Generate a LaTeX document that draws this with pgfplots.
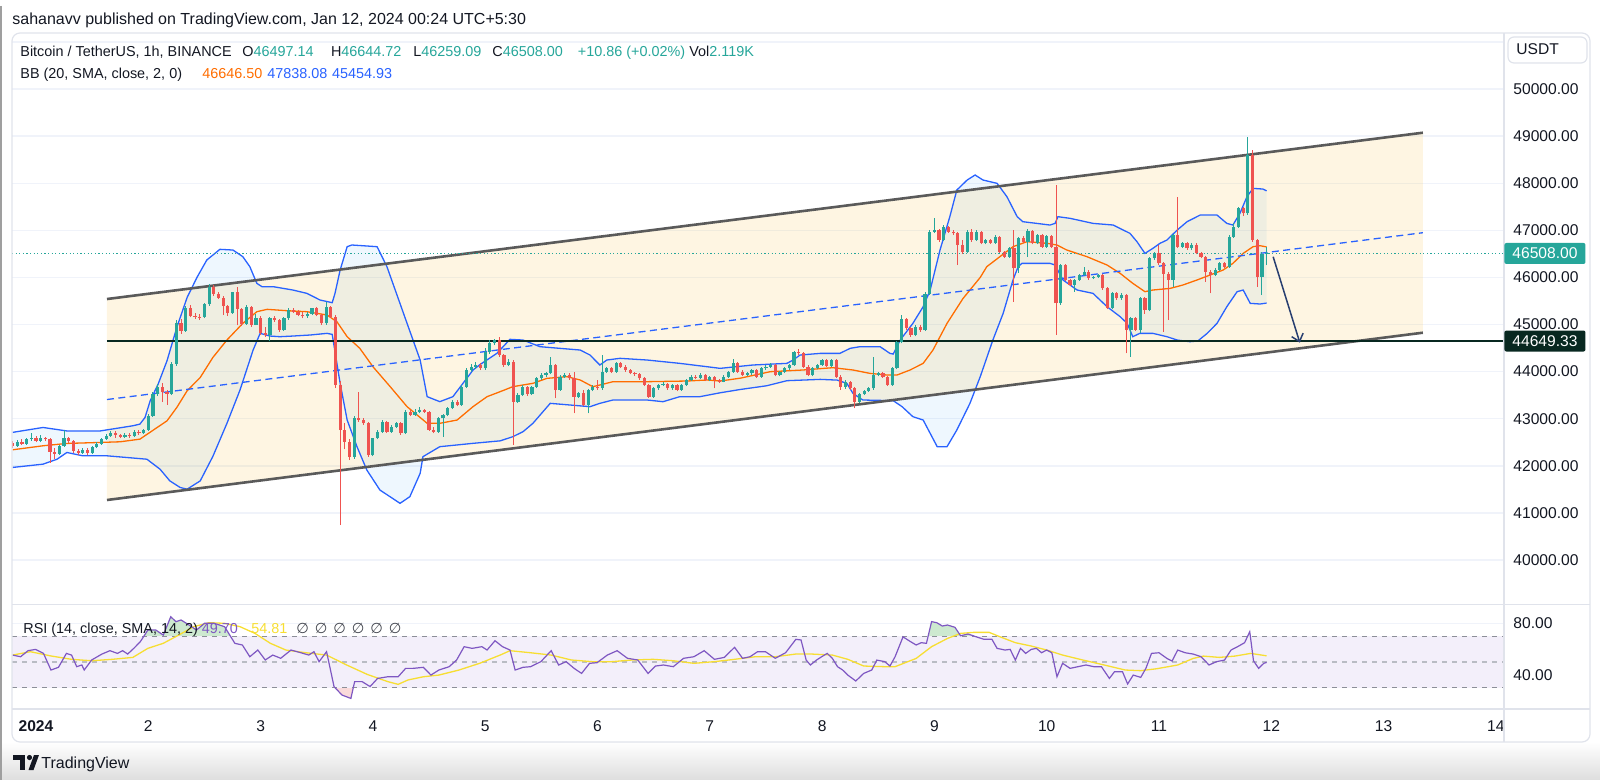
\documentclass[border=0pt]{standalone}
\usepackage{fontspec}
\setmainfont{Liberation Sans}
\newfontfamily\dejavu{DejaVu Sans}
\usepackage{pgfplots}
\usepackage{pgfplotstable}
\pgfplotsset{compat=1.18}
\usepgfplotslibrary{fillbetween}
\usetikzlibrary{arrows.meta}

\definecolor{cup}{RGB}{38,166,154}
\definecolor{cdn}{RGB}{239,83,80}
\definecolor{bbblue}{RGB}{41,98,255}
\definecolor{bbfill}{RGB}{33,150,243}
\definecolor{bborange}{RGB}{255,109,0}
\definecolor{chanfill}{RGB}{245,190,60}
\definecolor{chanline}{RGB}{90,90,90}
\definecolor{gridc}{RGB}{240,243,250}
\definecolor{framec}{RGB}{224,227,235}
\definecolor{txt}{RGB}{19,23,34}
\definecolor{rsic}{RGB}{126,87,194}
\definecolor{rsima}{RGB}{247,222,50}
\definecolor{rsiband}{RGB}{243,239,250}
\definecolor{dashc}{RGB}{140,143,152}
\definecolor{dashl}{RGB}{185,188,196}
\definecolor{obfill}{RGB}{205,233,208}
\definecolor{osfill}{RGB}{250,218,218}
\definecolor{hline}{RGB}{8,40,32}
\definecolor{arrowc}{RGB}{40,62,112}

\newcommand\fhead{\fontsize{8pt}{9.6pt}\selectfont}
\newcommand\fleg{\fontsize{7.2pt}{8.6pt}\selectfont}
\newcommand\fscale{\fontsize{7.8pt}{9pt}\selectfont}

% hourly candles, t = hours from Jan 1 00:00
\pgfplotstableread{
t o hi lo c
-5 42480 42530 42380 42420
-4 42420 42540 42400 42500
-3 42500 42560 42440 42470
-2 42470 42600 42450 42560
-1 42560 42700 42530 42600
0 42600 42640 42500 42530
1 42530 42650 42500 42580
2 42580 42620 42520 42560
3 42560 42580 42070 42300
4 42300 42380 42150 42260
5 42260 42450 42230 42420
6 42420 42760 42400 42600
7 42600 42620 42480 42520
8 42520 42540 42280 42320
9 42320 42360 42220 42280
10 42280 42380 42250 42340
11 42340 42370 42220 42270
12 42270 42410 42250 42390
13 42390 42500 42370 42470
14 42470 42580 42450 42560
15 42560 42680 42540 42640
16 42640 42730 42620 42700
17 42700 42740 42600 42650
18 42650 42680 42580 42620
19 42620 42700 42600 42660
20 42660 42700 42590 42630
21 42630 42760 42610 42720
22 42720 42750 42660 42690
23 42690 42790 42670 42760
24 42760 43100 42740 43060
25 43060 43560 43040 43520
26 43520 43740 43480 43680
27 43680 43760 43350 43560
28 43560 43600 43300 43520
29 43520 44200 43500 44160
30 44160 45100 44120 45040
31 45040 45120 44800 44870
32 44870 45400 44850 45360
33 45360 45420 45150 45180
34 45180 45250 45120 45160
35 45160 45220 45100 45150
36 45150 45460 45130 45430
37 45430 45850 45400 45790
38 45790 45830 45600 45650
39 45650 45700 45540 45570
40 45570 45600 45200 45400
41 45400 45420 45180 45250
42 45250 45700 45230 45680
43 45680 45800 44980 45330
44 45330 45350 44960 45020
45 45020 45420 45000 45380
46 45380 45400 44950 45000
47 45000 45230 44980 45130
48 45130 45180 44780 44812
49 44812 44950 44740 44780
50 44780 45160 44640 45130
51 45130 45170 45060 45096
52 45096 45120 44850 44883
53 44883 45150 44860 45130
54 45130 45340 45100 45308
55 45308 45340 45240 45270
56 45270 45300 45170 45200
57 45200 45260 45130 45170
58 45170 45260 45140 45230
59 45230 45360 45200 45343
60 45343 45370 45170 45200
61 45200 45230 45000 45025
62 45025 45485 45000 45380
63 45380 45400 45140 45166
64 45166 45200 43650 43716
65 43716 43800 40743 42760
66 42760 42900 42350 42510
67 42510 42560 42123 42194
68 42194 43050 42150 43008
69 43008 43573 42940 42970
70 42970 43010 42870 42901
71 42901 42930 42194 42229
72 42229 42600 42200 42583
73 42583 42760 42560 42725
74 42725 42980 42700 42937
75 42937 42960 42700 42725
76 42725 42860 42700 42831
77 42831 42940 42800 42901
78 42901 42920 42660 42689
79 42689 43180 42670 43149
80 43149 43190 43050 43079
81 43079 43200 43060 43149
82 43149 43240 43120 43184
83 43184 43210 43120 43149
84 43149 43170 42740 42760
85 42760 42830 42690 42725
86 42725 43040 42700 43008
87 43008 43110 42620 43079
88 43079 43250 43050 43220
89 43220 43400 43200 43362
90 43362 43400 43260 43290
91 43290 43720 43270 43680
92 43680 44080 43650 44034
93 44034 44160 44000 44100
94 44100 44200 44060 44140
95 44140 44180 44030 44070
96 44070 44500 44040 44420
97 44420 44680 44380 44600
98 44600 44700 44560 44671
99 44671 44742 44320 44352
100 44352 44380 44100 44140
101 44140 44260 44110 44211
102 44211 44240 42441 43362
103 43362 43540 43330 43503
104 43503 43720 43480 43680
105 43680 43700 43480 43520
106 43520 43700 43500 43680
107 43680 43880 43650 43857
108 43857 43960 43830 43928
109 43928 44000 43880 43963
110 43963 44317 43940 44140
111 44140 44160 43430 43609
112 43609 43920 43590 43892
113 43892 43960 43860 43928
114 43928 43960 43830 43857
115 43857 43990 43114 43468
116 43468 43570 43440 43538
117 43538 43609 43260 43291
118 43291 43640 43114 43609
119 43609 43710 43580 43680
120 43680 43822 43620 43645
121 43645 44352 43620 43998
122 43998 44100 43970 44069
123 44069 44090 43970 43998
124 43998 44200 43980 44175
125 44175 44200 44080 44104
126 44104 44130 44000 44034
127 44034 44060 43940 43963
128 43963 43990 43910 43940
129 43940 43960 43830 43857
130 43857 43880 43690 43715
131 43715 43740 43440 43468
132 43468 43680 43440 43645
133 43645 43740 43620 43715
134 43715 43770 43690 43740
135 43740 43760 43620 43645
136 43645 43740 43620 43715
137 43715 43740 43580 43609
138 43609 43740 43590 43715
139 43715 43850 43690 43822
140 43822 43920 43800 43892
141 43892 43920 43840 43860
142 43860 43960 43840 43928
143 43928 43950 43800 43822
144 43822 43910 43800 43892
145 43892 43910 43645 43822
146 43822 43850 43760 43786
147 43786 43920 43770 43892
148 43892 44020 43870 43998
149 43998 44260 43980 44175
150 44175 44200 43970 43998
151 43998 44030 43900 43927
152 43927 44000 43900 43963
153 43963 44060 43930 44034
154 44034 44060 43870 43892
155 43892 44090 43870 44069
156 44069 44130 44040 44104
157 44104 44180 44080 44140
158 44140 44160 43900 43927
159 43927 44020 43900 43998
160 43998 44100 43970 44069
161 44069 44170 44040 44140
162 44140 44440 44120 44423
163 44423 44470 44360 44387
164 44387 44410 44080 44104
165 44104 44150 43900 43927
166 43927 44090 43900 44069
167 44069 44170 44050 44140
168 44140 44270 44120 44246
169 44246 44270 44090 44118
170 44118 44270 44100 44246
171 44246 44260 43870 43892
172 43892 43920 43620 43680
173 43680 43820 43640 43780
174 43780 43800 43620 43644
175 43644 43670 43220 43361
176 43361 43550 43330 43524
177 43524 43620 43500 43595
178 43595 43680 43570 43644
179 43644 44316 43620 43927
180 43927 44000 43900 43975
181 43975 44000 43860 43892
182 43892 43910 43690 43715
183 43715 44090 43700 44069
184 44069 44660 44050 44635
185 44635 45200 44600 45109
186 45109 45130 44890 44918
187 44918 44940 44740 44777
188 44777 44980 44750 44954
189 44954 44980 44850 44880
190 44880 45680 44860 45647
191 45647 47010 45620 46970
192 46970 47253 46940 47006
193 47006 47030 46760 46793
194 46793 47110 46770 47077
195 47077 47100 46940 46970
196 46970 47000 46900 46935
197 46935 46960 46263 46687
198 46687 46794 46500 46546
199 46546 47000 46520 46970
200 46970 47020 46760 46794
201 46794 47000 46770 46970
202 46970 46990 46700 46723
203 46723 46820 46700 46794
204 46794 46820 46710 46737
205 46737 46890 46710 46864
206 46864 46880 46520 46546
207 46546 46570 46410 46440
208 46440 46640 46420 46617
209 46617 47006 45484 46192
210 46192 46850 46090 46829
211 46829 46870 46730 46758
212 46758 47020 46440 46992
213 46992 47010 46700 46723
214 46723 46920 46700 46900
215 46900 46920 46620 46652
216 46652 46900 46630 46878
217 46878 46900 46620 46652
218 46652 47961 44777 45449
219 45449 46290 45420 46263
220 46263 46290 45920 45944
221 45944 45970 45810 45838
222 45838 45970 45700 45944
223 45944 46080 45920 46050
224 46050 46227 46030 46121
225 46121 46150 45950 45979
226 45979 46040 45960 46015
227 46015 46080 45990 46050
228 46050 46070 45740 45767
229 45767 45790 45320 45343
230 45343 45690 45320 45661
231 45661 45690 45530 45555
232 45555 45660 45530 45626
233 45626 45650 44387 44883
234 44883 45160 44317 45130
235 45130 45150 44860 44883
236 44883 45580 44812 45555
237 45555 45580 45230 45307
238 45307 46430 45280 46404
239 46404 46540 46380 46510
240 46510 46687 46270 46300
241 46300 46330 44848 46080
242 46080 46110 45095 45950
243 45950 46930 45800 46900
244 46900 47699 46620 46650
245 46650 46750 46620 46720
246 46720 46750 46590 46616
247 46616 46720 46590 46687
248 46687 46720 46490 46510
249 46510 46545 46410 46440
250 46440 46460 45909 46121
251 46121 46150 45661 46050
252 46050 46190 46020 46157
253 46157 46330 46130 46298
254 46298 46330 46200 46227
255 46227 46890 46200 46864
256 46864 47150 46840 47077
257 47077 47490 47050 47466
258 47466 47500 47300 47360
259 47360 48987 47330 48598
260 48598 48704 46760 46793
261 46793 46820 45803 46015
262 46015 46530 45626 46497
263 46497 46645 46259 46508
}\candles

\pgfplotstableread{
t p
-5 42710
1.5 42814
6.6 42740
13.7 42740
20.7 42850
22.2 42885
23.3 43026
24.4 43380
26.1 43735
28.0 44230
30.1 44940
32.3 45575
34.4 46000
36.5 46369
39.3 46596
42.1 46581
44.2 46440
45.7 46228
47.2 45874
48.3 45803
50.7 45803
54.9 45732
57.9 45661
60.7 45520
63.3 45463
63.9 45661
65.0 46157
66.5 46652
67.5 46688
72.9 46652
75.0 46228
79.3 45025
82.1 44246
83.6 43468
86.3 43362
89.1 43468
93.4 44034
94.9 44150
98.5 44388
101.3 44685
104.1 44670
107.7 44529
116.3 44458
118.4 44352
120.5 44140
122.0 44246
124.8 44282
130.6 44246
137.6 44175
143.4 44104
146.2 44069
153.2 44140
160.5 44175
161.8 44246
163.3 44352
167.6 44387
171.8 44387
174.0 44494
176.1 44529
180.4 44529
182.5 44387
183.2 44373
184.7 44670
187.4 45024
189.6 45378
191.1 45732
193.2 46581
195.3 47289
196.8 47855
199.0 48067
200.7 48174
202.4 48067
205.4 47997
207.5 47714
209.7 47289
210.9 47183
216.7 47112
217.8 47147
218.4 47289
221.0 47254
225.9 47147
230.2 47112
233.8 46935
235.3 46758
237.0 46510
238.7 46617
240.2 46723
241.7 46793
243.9 47006
246.0 47183
248.8 47324
252.4 47324
254.5 47147
255.8 47112
257.3 47360
258.8 47713
260.1 47890
262.2 47876
263 47838
}\bbup

\pgfplotstableread{
t p
-5 41965
1.5 42035
4.5 42140
6.6 42283
10.0 42212
15.2 42212
23.7 42140
26.5 41929
28.6 41680
30.8 41540
32.3 41504
35.1 41680
37.8 42200
40.8 42900
43.6 43609
46.4 44458
47.9 44812
50.0 44755
52.1 44741
54.9 44755
58.6 44777
62.2 44812
63.3 44790
63.5 44670
65.0 43750
66.5 42972
68.6 42406
70.7 41911
73.5 41486
77.8 41203
79.9 41345
82.1 41840
82.7 42194
86.3 42406
93.4 42477
99.2 42530
101.9 42618
104.1 42725
106.2 42902
109.9 43326
114.1 43291
118.4 43255
120.5 43326
123.3 43397
130.6 43397
134.0 43361
137.6 43468
141.9 43468
146.2 43550
150.5 43620
156.2 43700
160.5 43807
167.6 43835
171.2 43820
173.3 43750
174.6 43538
176.7 43397
183.2 43383
185.1 43255
187.4 43043
189.6 42972
191.1 42689
192.6 42406
194.7 42406
196.8 42760
199.6 43326
201.8 43892
204.5 44670
206.7 45237
208.8 45944
209.9 46227
210.7 46298
216.7 46298
217.8 46263
219.5 45944
222.5 45732
225.9 45661
228.9 45378
231.7 45166
233.2 45024
234.4 44741
235.9 44812
238.7 44812
241.7 44741
243.9 44670
246.6 44635
248.3 44650
250.3 44812
252.4 45024
254.5 45378
256.7 45697
258.0 45732
259.5 45449
261.6 45435
263 45455
}\bblow

\pgfplotstableread{
t p
-5 42340
1.5 42425
6.6 42475
13.7 42496
18.0 42510
22.2 42566
25.9 42814
28.0 42955
30.1 43240
32.3 43593
35.1 43876
37.8 44300
40.8 44670
44.2 45025
47.2 45272
49.4 45322
53.6 45293
57.9 45272
62.2 45201
64.3 45060
66.5 44741
69.2 44494
72.0 44105
75.7 43680
79.3 43256
83.6 42902
86.3 42902
90.0 42972
93.4 43256
96.4 43468
99.2 43574
101.9 43680
106.2 43751
109.2 43857
113.5 43892
116.3 43822
119.0 43680
120.5 43715
123.3 43786
130.6 43786
139.1 43800
143.4 43822
146.2 43800
150.5 43860
156.9 43998
163.9 44034
170.3 44083
174.6 44034
178.2 43963
181.9 43927
184.0 43927
186.8 44034
189.6 44175
191.7 44458
194.7 45024
198.1 45550
201.8 46000
203.2 46228
206.0 46440
208.8 46652
211.8 46758
216.1 46723
218.2 46687
220.3 46581
224.6 46440
228.9 46263
231.7 46086
234.4 45874
237.0 45697
238.7 45732
242.4 45767
245.1 45838
248.1 45944
250.9 46050
253.7 46156
255.8 46298
258.0 46510
260.1 46652
261.6 46673
263 46647
}\bbmid

\pgfplotstableread{
t v
-5.0 55.4
-3.3 54.1
-1.7 58.8
-0.1 59.8
1.6 56.7
3.2 43.8
4.8 45.9
6.5 56.7
7.6 55.4
8.7 46.4
9.8 47.7
10.3 43.8
11.9 51.6
14.1 56.2
15.8 58.8
17.4 56.7
18.5 58.8
19.6 56.2
20.9 60.6
22.3 65.8
23.05 70.0
23.9 74.8
25.6 74.8
27.2 70.9
28.8 85.1
29.9 81.3
31.0 82.6
32.7 78.7
34.3 74.8
36.0 80.0
38.1 80.0
40.3 77.4
41.56 70.0
42.5 64.5
44.1 63.2
45.7 54.1
47.4 59.3
49.0 51.6
50.6 55.4
52.3 52.9
54.5 59.3
56.6 57.2
58.3 55.4
59.4 58.0
60.5 50.3
62.1 58.0
63.7 30.9
63.94 30.0
65.4 24.4
67.3 21.8
67.8 30.0
68.1 34.8
69.7 34.8
71.4 31.0
73.0 37.3
75.2 38.6
77.4 38.6
79.0 45.1
80.6 45.1
82.8 45.9
84.4 39.9
86.1 43.8
88.3 46.4
89.9 51.6
91.5 61.9
93.2 60.6
95.3 61.9
96.4 59.3
98.1 66.5
99.7 61.9
101.3 59.3
102.4 43.8
104.1 45.9
105.7 46.4
107.9 50.3
110.1 58.8
111.7 47.7
113.3 50.3
115.0 45.1
116.6 41.2
118.3 49.0
119.9 49.5
122.1 55.4
124.2 58.8
126.4 52.9
128.6 51.6
130.8 41.2
132.4 46.9
134.1 47.7
136.2 46.4
138.4 52.9
140.6 54.1
142.8 58.8
145.0 52.1
147.1 53.6
149.3 61.4
151.0 52.9
152.6 54.1
154.2 58.0
155.9 58.0
158.0 52.9
160.2 57.2
162.4 67.6
163.5 67.1
164.6 51.5
165.5 47.7
166.8 51.5
167.9 54.1
169.1 56.7
170.2 52.8
171.3 46.4
172.4 43.8
173.5 39.9
175.2 35.3
176.9 41.2
178.6 43.8
179.7 51.5
181.4 50.3
182.5 46.9
183.6 54.1
185.3 69.5
186.9 65.8
188.1 63.2
189.2 65.0
190.3 64.5
190.66 70.0
191.4 81.3
192.5 80.5
193.7 77.9
194.8 78.7
196.4 76.9
197.6 70.4
199.2 71.7
200.58 70.0
200.9 69.6
202.6 67.6
204.3 67.6
205.4 60.6
207.1 59.3
208.2 59.8
209.3 51.5
210.4 60.6
211.5 56.7
212.7 59.8
213.8 60.6
214.9 57.2
216.0 59.3
217.1 57.2
218.2 38.6
219.4 49.0
221.0 45.1
222.7 46.4
224.4 47.7
226.1 46.4
227.7 46.4
229.4 37.3
230.5 42.5
232.2 42.5
233.3 33.0
234.5 39.9
236.1 38.1
237.2 45.1
238.4 56.7
240.0 57.2
241.7 52.8
242.8 50.8
244.0 59.3
245.6 57.2
247.3 56.2
249.0 54.1
250.7 47.7
252.3 50.3
254.0 51.5
255.4 59.3
256.8 61.9
258.3 65.0
259.4 73.5
260.2 51.0
261.3 45.1
262.4 49.0
263 49.7
}\rsitab

\pgfplotstableread{
t v
-5.0 55.4
-1.2 58.0
3.2 54.7
7.6 52.1
11.9 51.0
16.3 52.1
20.7 53.6
23.9 60.6
27.2 64.5
30.5 70.9
33.7 77.4
37.0 80.5
40.3 80.0
43.6 77.4
46.8 72.2
50.1 64.5
53.4 59.3
57.7 57.2
62.1 55.4
66.4 47.7
70.8 40.4
75.2 34.8
77.4 32.7
79.5 36.1
82.8 38.6
86.1 39.9
90.4 43.8
94.8 49.0
99.2 55.4
101.3 58.8
105.7 57.2
110.1 55.4
114.4 51.6
118.8 50.3
123.1 50.3
127.5 51.6
131.9 52.1
136.2 51.0
140.6 49.0
145.0 50.3
149.3 52.1
153.7 54.1
158.0 54.1
162.4 56.2
165.7 56.2
170.2 55.4
173.5 52.1
176.9 46.9
181.4 46.4
183.6 46.4
188.1 52.8
191.4 61.9
194.8 68.3
197.6 72.2
200.4 73.0
203.7 73.0
206.0 69.6
209.3 65.0
212.7 62.4
216.0 59.3
219.4 55.4
223.8 51.5
228.3 47.7
232.8 43.8
236.1 43.3
239.5 44.8
244.0 47.7
247.3 52.8
249.5 54.6
252.9 53.6
256.2 54.6
259.6 56.7
263 54.81
}\rsimatab

\begin{document}
\begin{tikzpicture}
\begin{scope}[x=0.5pt, y=-0.5pt]
  \useasboundingbox (0,0) rectangle (1600,780);
  \shade[top color=white, bottom color=black!13] (0,742) rectangle (1600,780);
  \draw[gray!75, line width=1pt] (1,6) -- (1,780);
\end{scope}

% ---------- price pane ----------
\begin{axis}[
  at={(6pt,-302pt)}, anchor=south west, scale only axis,
  width=746pt, height=285.5pt,
  xmin=-5.13, xmax=313.74, ymin=39066, ymax=51189,
  axis line style={draw=none}, major tick length=0pt,
  xtick=\empty, scaled y ticks=false,
  ytick={40000,41000,...,51000},
  yticklabels={40000.00,41000.00,42000.00,43000.00,44000.00,45000.00,46000.00,47000.00,48000.00,49000.00,50000.00,{}},
  yticklabel pos=right,
  yticklabel style={anchor=west, inner sep=0pt, xshift=4.5pt, font=\fscale, text=txt},
  ymajorgrids, grid style={draw=gridc, line width=0.7pt},
]
% channel
\addplot[draw=none, fill=chanfill, fill opacity=0.15]
  coordinates {(15.17,45541) (296.4,49072) (296.4,44826) (15.17,41274)} -- cycle;
% bollinger bands
\addplot[name path=bbu, bbblue, line width=0.65pt] table[x=t, y=p] {\bbup};
\addplot[name path=bbl, bbblue, line width=0.65pt] table[x=t, y=p] {\bblow};
\addplot[fill=bbfill, fill opacity=0.08, draw=none] fill between[of=bbu and bbl];
\addplot[bborange, line width=0.65pt] table[x=t, y=p] {\bbmid};
% channel lines
\addplot[chanline, line width=1.3pt] coordinates {(15.17,45541) (296.4,49072)};
\addplot[chanline, line width=1.3pt] coordinates {(15.17,41274) (296.4,44826)};
\addplot[bbblue, line width=0.65pt, dash pattern=on 3.5pt off 2.2pt] coordinates {(15.17,43407) (296.4,46949)};
\addplot[hline, line width=0.8pt] coordinates {(15.17,44649.33) (313.74,44649.33)};
\addplot[cup, line width=0.6pt, dash pattern=on 0.6pt off 1.2pt] coordinates {(-5.13,46508) (313.74,46508)};
% wicks
\addplot[draw=none, restrict expr to domain={\thisrow{c}-\thisrow{o}}{0:100000},
  error bars/.cd, y dir=plus, y explicit, error mark=none,
  error bar style={draw=cup, line width=0.5pt}]
  table[x=t, y=lo, y error expr=\thisrow{hi}-\thisrow{lo}] {\candles};
\addplot[draw=none, restrict expr to domain={\thisrow{c}-\thisrow{o}}{-100000:-0.5},
  error bars/.cd, y dir=plus, y explicit, error mark=none,
  error bar style={draw=cdn, line width=0.5pt}]
  table[x=t, y=lo, y error expr=\thisrow{hi}-\thisrow{lo}] {\candles};
% bodies
\addplot[draw=none, restrict expr to domain={\thisrow{c}-\thisrow{o}}{0:100000},
  error bars/.cd, y dir=plus, y explicit, error mark=none,
  error bar style={draw=cup, line width=1.6pt, line cap=butt}]
  table[x=t, y=o, y error expr=\thisrow{c}-\thisrow{o}] {\candles};
\addplot[draw=none, restrict expr to domain={\thisrow{c}-\thisrow{o}}{-100000:-0.5},
  error bars/.cd, y dir=plus, y explicit, error mark=none,
  error bar style={draw=cdn, line width=1.6pt, line cap=butt}]
  table[x=t, y=c, y error expr=\thisrow{o}-\thisrow{c}] {\candles};
% arrow
\addplot[arrowc, line width=0.75pt, -{Straight Barb[length=3.5pt, width=6pt]}]
  coordinates {(264.4,46439) (270.1,44614)};
\coordinate (lastp) at (axis cs:313.74,46508);
\coordinate (linep) at (axis cs:313.74,44649.33);
\end{axis}

% ---------- RSI pane ----------
\begin{axis}[
  at={(6pt,-354.5pt)}, anchor=south west, scale only axis,
  width=746pt, height=52pt,
  xmin=-5.13, xmax=313.74, ymin=13.6, ymax=94.2,
  axis line style={draw=none}, major tick length=0pt,
  xtick={0,24,...,312},
  xticklabels={{\textbf{2024}},2,3,4,5,6,7,8,9,10,11,12,13,14},
  xticklabel style={anchor=north, inner sep=0pt, yshift=-5.5pt, font=\fscale, text=txt},
  ytick={40,80}, yticklabels={40.00,80.00},
  yticklabel pos=right,
  yticklabel style={anchor=west, inner sep=0pt, xshift=4.5pt, font=\fscale, text=txt},
  ymajorgrids, grid style={draw=gridc, line width=0.7pt},
]
\addplot[draw=none, fill=rsiband] coordinates {(-5.13,30) (313.74,30) (313.74,70) (-5.13,70)} -- cycle;
\addplot[name path=l70, dashc, line width=0.6pt, dash pattern=on 2.5pt off 2.5pt] coordinates {(-5.13,70) (313.74,70)};
\addplot[dashl, line width=0.6pt, dash pattern=on 2.5pt off 2.5pt] coordinates {(-5.13,50) (313.74,50)};
\addplot[name path=l30, dashc, line width=0.6pt, dash pattern=on 2.5pt off 2.5pt] coordinates {(-5.13,30) (313.74,30)};
\addplot[rsima, line width=0.65pt] table[x=t, y=v] {\rsimatab};
\addplot[name path=rsi, rsic, line width=0.6pt] table[x=t, y=v] {\rsitab};
\addplot[fill=obfill, draw=none] fill between[of=rsi and l70, soft clip={domain=23.05:41.56}];
\addplot[fill=obfill, draw=none] fill between[of=rsi and l70, soft clip={domain=190.66:200.58}];
\addplot[fill=osfill, draw=none] fill between[of=rsi and l30, soft clip={domain=63.94:67.8}];
\end{axis}

\begin{scope}[x=0.5pt, y=-0.5pt]
  % frame and separators
  \fill[white] (1505,710) rectangle (1589,741);
  \draw[framec, line width=0.6pt, rounded corners=4pt] (12,33) rectangle (1590,742);
  \draw[framec, line width=0.6pt] (12,604.5) -- (1590,604.5);
  \draw[framec, line width=0.6pt] (12,709) -- (1590,709);
  \draw[framec, line width=0.6pt] (1504,33) -- (1504,742);
  % USDT box
  \draw[framec, fill=white, rounded corners=3pt, line width=0.6pt] (1508,37) rectangle (1587,63);
  \node[anchor=base west, inner sep=0pt, text=txt] at (1516,55) {\fscale USDT};
  % header
  \node[anchor=base west, inner sep=0pt, text=txt] at (12,25) {\fhead sahanavv published on TradingView.com, Jan 12, 2024 00:24 UTC+5:30};
  \node[anchor=base west, inner sep=0pt, text=txt] at (20,57) {\fleg Bitcoin / TetherUS, 1h, BINANCE};
  \node[anchor=base west, inner sep=0pt] at (242,57) {\fleg\color{txt}O\color{cup}46497.14};
  \node[anchor=base west, inner sep=0pt] at (330.6,57) {\fleg\color{txt}H\color{cup}46644.72};
  \node[anchor=base west, inner sep=0pt] at (413,57) {\fleg\color{txt}L\color{cup}46259.09};
  \node[anchor=base west, inner sep=0pt] at (492,57) {\fleg\color{txt}C\color{cup}46508.00};
  \node[anchor=base west, inner sep=0pt, text=cup] at (577.5,57) {\fleg +10.86 (+0.02\%)};
  \node[anchor=base west, inner sep=0pt] at (689,57) {\fleg\color{txt}Vol\color{cup}2.119K};
  \node[anchor=base west, inner sep=0pt, text=txt] at (20,79) {\fleg BB (20, SMA, close, 2, 0)};
  \node[anchor=base west, inner sep=0pt, text=bborange] at (202,79) {\fleg 46646.50};
  \node[anchor=base west, inner sep=0pt, text=bbblue] at (267,79) {\fleg 47838.08};
  \node[anchor=base west, inner sep=0pt, text=bbblue] at (331.6,79) {\fleg 45454.93};
  % RSI legend
  \node[anchor=base west, inner sep=0pt, text=txt] at (23,633) {\fleg RSI (14, close, SMA, 14, 2)};
  \node[anchor=base west, inner sep=0pt, text=rsic] at (201.5,633) {\fleg 49.70};
  \node[anchor=base west, inner sep=0pt, text=rsima] at (251,633) {\fleg 54.81};
  \foreach \xx in {296,314.5,333,351.5,370,388.5}
    \node[anchor=base west, inner sep=0pt, text=txt!80] at (\xx,633) {\fleg\dejavu ∅};
  % footer logo
  \fill[txt] (13,755) rectangle (25,759.5);
  \fill[txt] (19.5,755) rectangle (25,770);
  \fill[txt] (29.5,757.5) circle (2.6);
  \fill[txt] (34,755) -- (39,755) -- (33.5,770) -- (28.5,770) -- cycle;
  \node[anchor=base west, inner sep=0pt, text=txt] at (41,768) {\fhead TradingView};
\end{scope}
% price labels on the scale
\node[anchor=west, fill=cup, text=white, inner xsep=4pt, inner ysep=0pt, minimum height=10.5pt, rounded corners=1pt, font=\fscale] at (lastp) {46508.00};
\node[anchor=west, fill=hline, text=white, inner xsep=4pt, inner ysep=0pt, minimum height=10.5pt, rounded corners=1pt, font=\fscale] at (linep) {44649.33};
\end{tikzpicture}
\end{document}
